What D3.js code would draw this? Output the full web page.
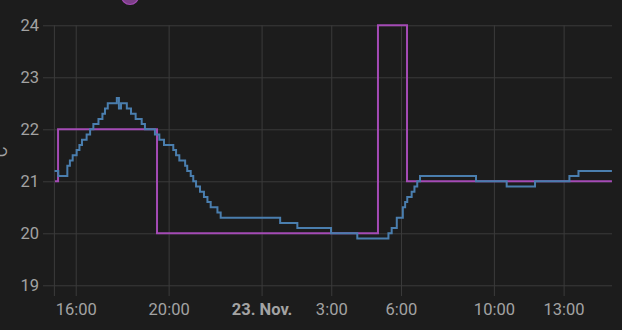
<!DOCTYPE html>
<html lang="en">
<head>
	<meta charset="UTF-8">
	<title>Temperature history</title>
	<style>
		html, body { margin: 0; padding: 0; background: #1c1c1c; overflow: hidden; }
		svg { display: block; font-family: Roboto, "Noto Sans", sans-serif; }
	</style>
	<script src="https://cdn.jsdelivr.net/npm/d3@7"></script>
</head>
<body>
	<script type="text/javascript">
		// hours counted from 22 Nov 00:00
		const blueHours = [15.09, 15.25, 15.64, 15.75, 15.87, 16.04, 16.16, 16.27, 16.47, 16.62,
			16.76, 16.98, 17.15, 17.26, 17.38, 17.77, 17.86, 17.95, 18.2, 18.38,
			18.58, 18.84, 18.98, 19.41, 19.6, 19.8, 20.2, 20.32, 20.46, 20.71,
			20.8, 20.95, 21.06, 21.18, 21.35, 21.52, 21.67, 21.81, 22.1, 22.24,
			24.8, 25.54, 26.99, 28.12, 29.46, 29.6, 29.82, 30.08, 30.18, 30.27,
			30.46, 30.58, 30.7, 30.82, 33.23, 34.55, 35.77, 37.25, 37.64, 39.08];
		const blueTemps = [21.2, 21.1, 21.3, 21.4, 21.5, 21.6, 21.7, 21.8, 21.9, 22.0,
			22.1, 22.2, 22.3, 22.4, 22.5, 22.6, 22.4, 22.5, 22.4, 22.3,
			22.2, 22.1, 22.0, 21.9, 21.8, 21.7, 21.6, 21.5, 21.4, 21.3,
			21.2, 21.1, 21.0, 20.9, 20.8, 20.7, 20.6, 20.5, 20.4, 20.3,
			20.2, 20.1, 20.0, 19.9, 20.0, 20.1, 20.3, 20.5, 20.6, 20.7,
			20.8, 20.9, 21.0, 21.1, 21.0, 20.9, 21.0, 21.1, 21.2, 21.2];

		const targetHours = [15.11, 15.24, 19.5, 29.01, 30.26, 39.08];
		const targetTemps = [21, 22, 20, 24, 21, 21];

		const yTicks = [19, 20, 21, 22, 23, 24];
		const xTickHours = [16, 20, 24, 27, 30, 34, 37];
		const xTickLabels = ["16:00", "20:00", "23. Nov.", "3:00", "6:00", "10:00", "13:00"];

		const width = 622;
		const height = 330;
		const day0 = new Date(2023, 10, 22, 0, 0).getTime();
		const toDate = h => new Date(day0 + h * 3600e3);

		const svg = d3.select("body").append("svg")
			.attr("width", width)
			.attr("height", height);

		const x = d3.scaleTime()
			.domain([toDate(15.083), toDate(39.083)])
			.range([54.4, 612]);

		const y = d3.scaleLinear()
			.domain([19, 24])
			.range([285.3, 25.3]);

		// horizontal grid + y labels
		const yAxis = d3.axisLeft(y)
			.tickValues(yTicks)
			.tickSize(-(612 - 43))
			.tickPadding(4)
			.tickFormat(d3.format("d"));

		svg.append("g")
			.attr("transform", "translate(43,0)")
			.call(yAxis)
			.call(g => g.select(".domain").remove())
			.call(g => g.selectAll("line").attr("stroke", "#3b3b3b"))
			.call(g => g.selectAll("text")
				.attr("fill", "#a3a3a3")
				.attr("font-size", 16.5)
				.attr("font-family", "Roboto, sans-serif"));

		// vertical grid + time labels
		const xAxis = d3.axisBottom(x)
			.tickValues(xTickHours.map(toDate))
			.tickSize(-(296 - 25.3))
			.tickPadding(7)
			.tickFormat((d, i) => xTickLabels[i]);

		svg.append("g")
			.attr("transform", "translate(0,296)")
			.call(xAxis)
			.call(g => g.select(".domain").remove())
			.call(g => g.selectAll("line").attr("stroke", "#3b3b3b"))
			.call(g => g.selectAll("text")
				.attr("fill", "#a3a3a3")
				.attr("font-size", 16.5)
				.attr("font-family", "Roboto, sans-serif")
				.attr("font-weight", (d, i) => xTickLabels[i] === "23. Nov." ? "bold" : null));

		// left border line
		svg.append("line")
			.attr("x1", x.range()[0]).attr("x2", x.range()[0])
			.attr("y1", 25.3).attr("y2", 296)
			.attr("stroke", "#3b3b3b");

		// unit label, mostly cut off at the left edge
		svg.append("text")
			.attr("transform", "translate(7,155) rotate(-90)")
			.attr("text-anchor", "middle")
			.attr("fill", "#a3a3a3")
			.attr("font-size", 16.5)
			.text("°C");

		// legend marker, cut off at the top
		svg.append("circle")
			.attr("cx", 130).attr("cy", -4).attr("r", 8.5)
			.attr("fill", "#7c3f88")
			.attr("stroke", "#a24cb3")
			.attr("stroke-width", 1.2);

		const line = d3.line()
			.x(d => x(toDate(d[0])))
			.y(d => y(d[1]))
			.curve(d3.curveStepAfter);

		svg.append("path")
			.datum(d3.zip(targetHours, targetTemps))
			.attr("d", line)
			.attr("fill", "none")
			.attr("stroke", "#a44bb5")
			.attr("stroke-width", 2);

		svg.append("path")
			.datum(d3.zip(blueHours, blueTemps))
			.attr("d", line)
			.attr("fill", "none")
			.attr("stroke", "#4a7eae")
			.attr("stroke-width", 2);
	</script>
</body>
</html>
